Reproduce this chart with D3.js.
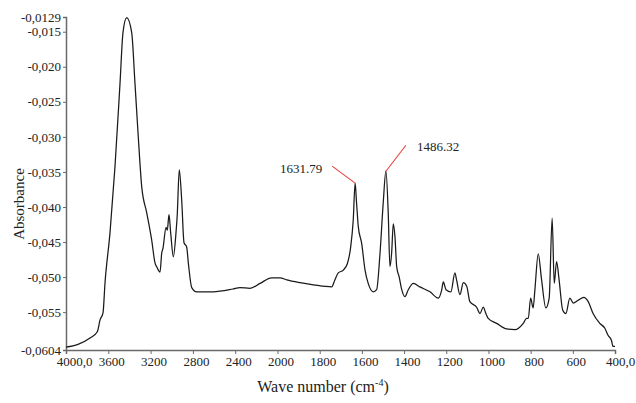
<!DOCTYPE html>
<html><head><meta charset="utf-8">
<script src="https://cdn.jsdelivr.net/npm/d3@7"></script>
<style>
html,body{margin:0;padding:0;background:#fff;}
svg{display:block;}
svg text{font-family:"Liberation Serif","Times New Roman",serif !important;fill:#222;}
</style></head>
<body>
<svg id="chart" width="636" height="403"></svg>
<script>
// wavenumbers (cm^-1)
const wavenumbers = [4000,3773,3704,3678,3650,3631,3584,3537,3489,3461,3426,3379,3348,3319,3284,3237,3190,3158,3140,3111,3095,3083,3054,3042,3026,3010,2985,2960,2948,2929,2906,2884,2859,2843,2811,2764,2610,2421,2355,2260,2165,2055,1988,1956,1893,1830,1743,1728,1712,1688,1669,1653,1641,1632,1625,1617,1601,1585,1570,1546,1530,1514,1499,1486,1475,1467,1459,1451,1443,1435,1423,1411,1396,1380,1356,1325,1277,1238,1222,1214,1201,1178,1159,1151,1135,1119,1103,1088,1056,1040,1025,1012,1001,961,914,874,835,819,811,800,788,780,764,748,728,712,698,688,677,665,648,633,614,598,575,548,527,504,472,448,433,417,409,400];
// absorbance values
const absorbance = [-0.0600,-0.0587,-0.0578,-0.0561,-0.0551,-0.0508,-0.0437,-0.0343,-0.0223,-0.0151,-0.0130,-0.0151,-0.0223,-0.0294,-0.0371,-0.0408,-0.0447,-0.0480,-0.0486,-0.0493,-0.0466,-0.0459,-0.0429,-0.0433,-0.0411,-0.0437,-0.0471,-0.0437,-0.0411,-0.0347,-0.0390,-0.0451,-0.0457,-0.0480,-0.0515,-0.0521,-0.0521,-0.0517,-0.0515,-0.0516,-0.0509,-0.0501,-0.0501,-0.0504,-0.0508,-0.0511,-0.0514,-0.0504,-0.0494,-0.0490,-0.0481,-0.0457,-0.0419,-0.0366,-0.0395,-0.0428,-0.0452,-0.0490,-0.0509,-0.0521,-0.0518,-0.0466,-0.0395,-0.0349,-0.0409,-0.0485,-0.0466,-0.0424,-0.0443,-0.0485,-0.0500,-0.0518,-0.0528,-0.0518,-0.0509,-0.0514,-0.0521,-0.0530,-0.0519,-0.0507,-0.0518,-0.0521,-0.0494,-0.0504,-0.0525,-0.0508,-0.0513,-0.0535,-0.0543,-0.0552,-0.0543,-0.0552,-0.0559,-0.0566,-0.0574,-0.0575,-0.0566,-0.0559,-0.0559,-0.0530,-0.0544,-0.0519,-0.0467,-0.0504,-0.0544,-0.0530,-0.0416,-0.0509,-0.0478,-0.0504,-0.0547,-0.0552,-0.0530,-0.0537,-0.0533,-0.0529,-0.0535,-0.0552,-0.0566,-0.0573,-0.0583,-0.0590,-0.0599,-0.0599];
// axis ticks
const xTicks = [4000,3600,3200,2800,2400,2000,1800,1600,1400,1200,1000,800,600,400];
const xTickLabels = ["4000,0","3600","3200","2800","2400","2000","1800","1600","1400","1200","1000","800","600","400,0"];
const yTicks = [-0.0129,-0.015,-0.020,-0.025,-0.030,-0.035,-0.040,-0.045,-0.050,-0.055,-0.0604];
const yTickLabels = ["-0,0129","-0,015","-0,020","-0,025","-0,030","-0,035","-0,040","-0,045","-0,050","-0,055","-0,0604"];
// peak annotations
const peakLabels = ["1631.79","1486.32"];
const peakWaves = [1632,1486];
const peakValues = [-0.0366,-0.0349];

const svg = d3.select("#chart");
const L = 66, R = 615, T = 17, B = 350;
const serif = '"Liberation Serif","Times New Roman",serif';

const x = d3.scaleLinear().domain([4000,2000,400]).range([L, 277.5, R]);
const y = d3.scaleLinear().domain([-0.0604,-0.0129]).range([B, T]);

const axisColor = "#6a6a6a";

// X axis
const xAxis = svg.append("g").attr("transform",`translate(0,${B})`)
  .call(d3.axisBottom(x).tickValues(xTicks).tickSize(4).tickPadding(3)
    .tickFormat((d,i)=>xTickLabels[i]));
xAxis.attr("font-family", null);
xAxis.select(".domain").attr("stroke",axisColor).attr("stroke-width",1.5);
xAxis.selectAll(".tick line").attr("stroke",axisColor);
xAxis.selectAll(".tick text").style("font-size","13px").style("font-family",serif).attr("fill","#222")
  .attr("dx",(d,i)=> i===0 ? 8 : (i===xTicks.length-1 ? 5 : 3));

// Y axis
const yAxis = svg.append("g").attr("transform",`translate(${L},0)`)
  .call(d3.axisLeft(y).tickValues(yTicks).tickSize(3).tickPadding(2)
    .tickFormat((d,i)=>yTickLabels[i]));
yAxis.attr("font-family", null);
yAxis.select(".domain").attr("stroke",axisColor).attr("stroke-width",1.5);
yAxis.selectAll(".tick line").attr("stroke",axisColor);
yAxis.selectAll(".tick text").style("font-size","13px").style("font-family",serif).attr("fill","#222");

// spectrum
const data = wavenumbers.map((w,i)=>({w, v: absorbance[i]}));
const line = d3.line().x(d=>x(d.w)).y(d=>y(d.v)).curve(d3.curveMonotoneX);
svg.append("path").datum(data)
  .attr("d", line).attr("fill","none").attr("stroke","#1a1a1a").attr("stroke-width",1.25);

// annotations
const ann = peakLabels.map((t,i)=>({t, w: peakWaves[i], v: peakValues[i]}));
const offs = [{lx:-23, ly:-17, tx:-33, ty:-10, anchor:"end"},{lx:20, ly:-26, tx:31, ty:-20, anchor:"start"}];
ann.forEach((a,i)=>{
  const px = x(a.w), py = y(a.v), o = offs[i];
  svg.append("line").attr("x1",px).attr("y1",py).attr("x2",px+o.lx).attr("y2",py+o.ly)
    .attr("stroke","#e5413b").attr("stroke-width",1.1);
  svg.append("text").attr("x",px+o.tx).attr("y",py+o.ty).attr("text-anchor",o.anchor)
    .style("font-size","13px").text(a.t);
});

// axis titles
const xt = svg.append("text").attr("x",323).attr("y",392).attr("text-anchor","middle").style("font-size","16px");
xt.append("tspan").text("Wave number (cm");
xt.append("tspan").style("font-size","10px").attr("dy",-6).text("-4");
xt.append("tspan").attr("dy",6).text(")");

svg.append("text").attr("transform","translate(24,204) rotate(-90)").attr("text-anchor","middle")
  .style("font-size","15px").text("Absorbance");
</script>
</body></html>
